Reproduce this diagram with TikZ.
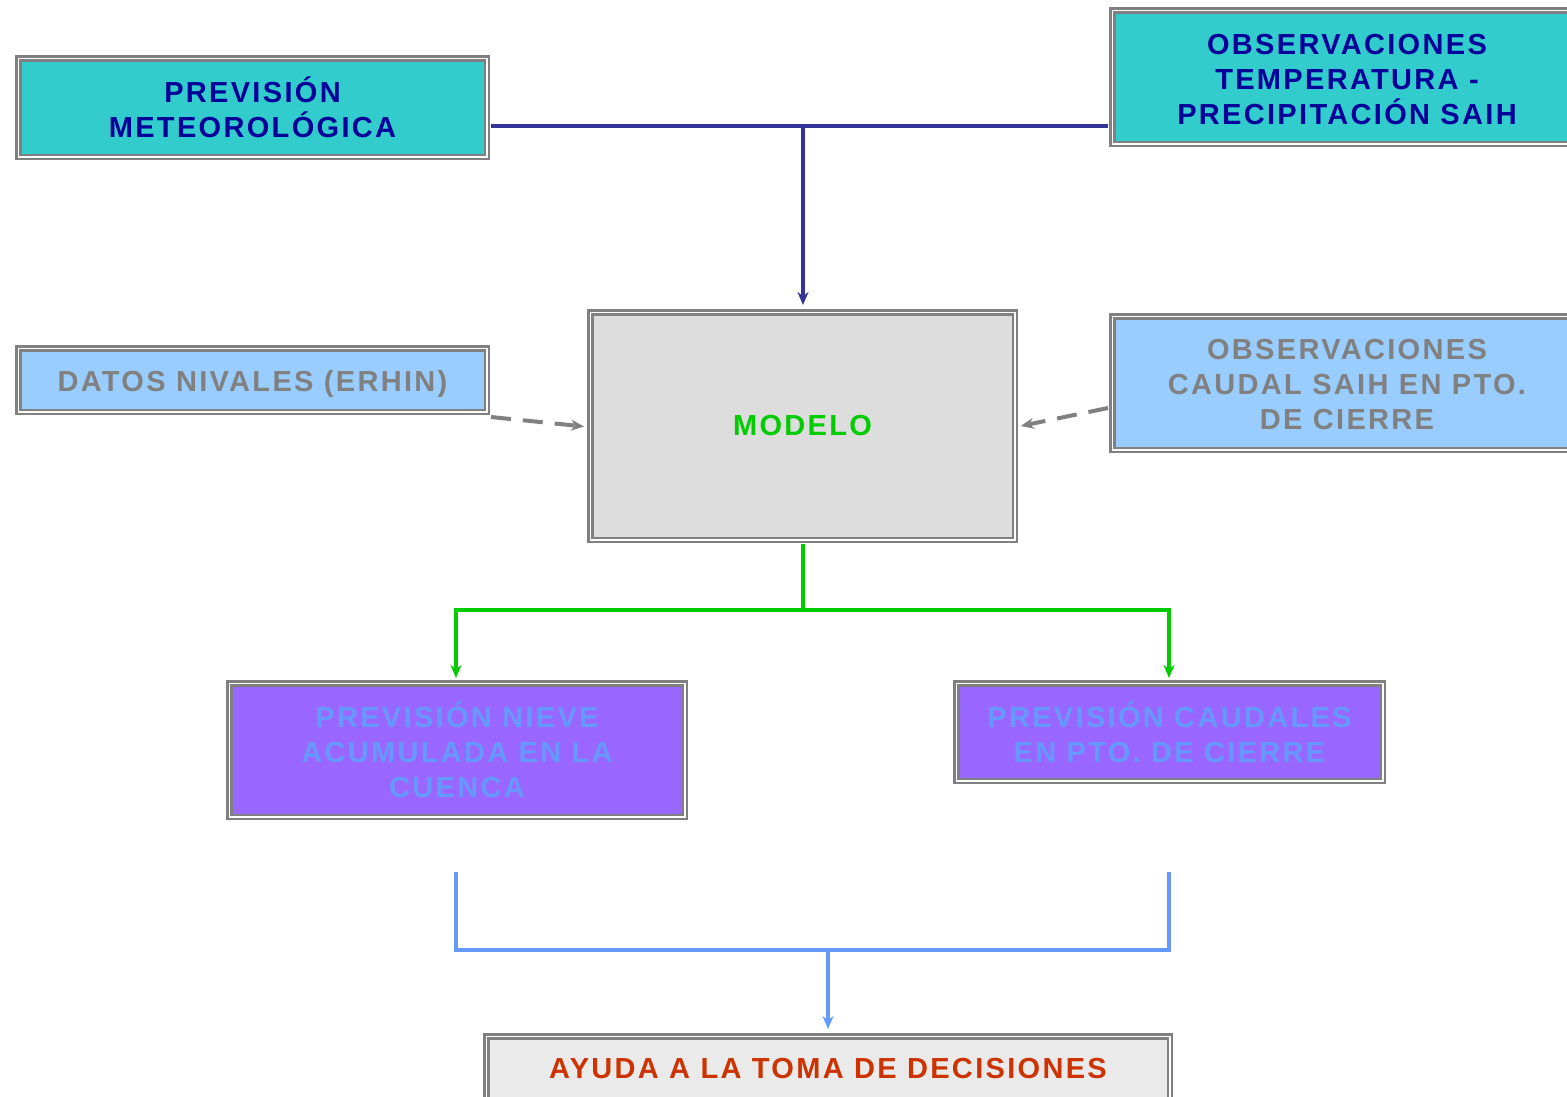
\documentclass[tikz,border=0pt]{standalone}
\usepackage{fontspec}
\setmainfont{Liberation Sans}[LetterSpace=8]
\usetikzlibrary{arrows.meta}
\definecolor{tealfill}{HTML}{33CCCC}
\definecolor{navytext}{HTML}{000099}
\definecolor{blueline}{HTML}{333399}
\definecolor{skyfill}{HTML}{99CCFF}
\definecolor{boxgray}{HTML}{808080}
\definecolor{modfill}{HTML}{DDDDDD}
\definecolor{grn}{HTML}{00CC00}
\definecolor{purp}{HTML}{9966FF}
\definecolor{lblue}{HTML}{6699FF}
\definecolor{botfill}{HTML}{EAEAEA}
\definecolor{redtext}{HTML}{CC3300}
\tikzset{
  dbox/.style={draw=boxgray, line width=2.5pt, double=white, double distance=1.5pt,
    inner sep=0pt, align=center, font=\fontsize{29}{35}\selectfont\bfseries},
  conn/.style={line width=4pt},
  tipA/.style={-{Stealth[length=13pt,width=11pt]}},
}
\begin{document}
\begin{tikzpicture}[x=1pt,y=-1pt]
\path[use as bounding box] (0,0) rectangle (1567,1096);
\clip (0,0) rectangle (1567,1096);
% nodes
\node[dbox, fill=tealfill, text=navytext, minimum width=468.5pt, minimum height=98.5pt]
  (met) at (252.5,107.5) {PREVISIÓN\\METEOROLÓGICA};
\node[dbox, fill=tealfill, text=navytext, minimum width=469.5pt, minimum height=133.5pt]
  (obs) at (1347,77) {\raisebox{-3pt}[\height][\depth]{\parbox{400pt}{\centering OBSERVACIONES\\TEMPERATURA -\\PRECIPITACIÓN SAIH}}};
\node[dbox, fill=skyfill, text=boxgray, minimum width=468.5pt, minimum height=63.5pt]
  (dat) at (252.5,380) {\raisebox{-4pt}[\height][\depth]{DATOS NIVALES (ERHIN)}};
\node[dbox, fill=modfill, text=grn, minimum width=424.5pt, minimum height=227.5pt]
  (mod) at (802.5,426) {MODELO};
\node[dbox, fill=skyfill, text=boxgray, minimum width=469.5pt, minimum height=133.5pt]
  (caud) at (1347,383) {\raisebox{-2pt}[\height][\depth]{\parbox{400pt}{\centering OBSERVACIONES\\CAUDAL SAIH EN PTO.\\DE CIERRE}}};
\node[dbox, fill=purp, text=lblue, minimum width=455.5pt, minimum height=133.5pt]
  (nieve) at (457,750) {PREVISIÓN NIEVE\\ACUMULADA EN LA\\CUENCA};
\node[dbox, fill=purp, text=lblue, minimum width=426.5pt, minimum height=97.5pt]
  (pcau) at (1169.5,732) {PREVISIÓN CAUDALES\\EN PTO. DE CIERRE};
\node[dbox, fill=botfill, text=redtext, minimum width=683.5pt, minimum height=65.5pt]
  (ayu) at (828,1069) {AYUDA A LA TOMA DE DECISIONES};
% connectors: top (blue)
\coordinate (jb) at (803,126);
\draw[conn, draw=blueline, shorten <=3pt, shorten >=3pt] (met.east |- jb) -- (obs.west |- jb);
\draw[conn, draw=blueline, tipA, shorten >=6pt] (jb) -- (jb |- mod.north);
% dashed inputs
\draw[conn, draw=boxgray, dash pattern=on 20pt off 12pt, tipA, shorten >=5pt]
  ([shift={(3,4)}]dat.south east) -- ([yshift=-1]mod.west);
\draw[conn, draw=boxgray, dash pattern=on 20pt off 12pt, tipA, shorten >=5pt]
  ([shift={(-3,25)}]caud.west) -- ([yshift=-1]mod.east);
% green outputs
\coordinate (jg) at (803,610);
\draw[conn, draw=grn, shorten <=3pt] (jg |- mod.south) -- (jg);
\draw[conn, draw=grn, tipA, shorten >=5pt] (jg) -| (456,683);
\draw[conn, draw=grn, tipA, shorten >=5pt] (jg) -| (1169,683);
% light blue merge
\coordinate (b1) at (456,872);
\coordinate (b2) at (1169,872);
\coordinate (bj) at (828,950);
\draw[line width=4.5pt, draw=lblue] (b1) |- (bj) -| (b2);
\draw[line width=4.5pt, draw=lblue, tipA, shorten >=6pt] (bj) -- (ayu.north);
\end{tikzpicture}
\end{document}
